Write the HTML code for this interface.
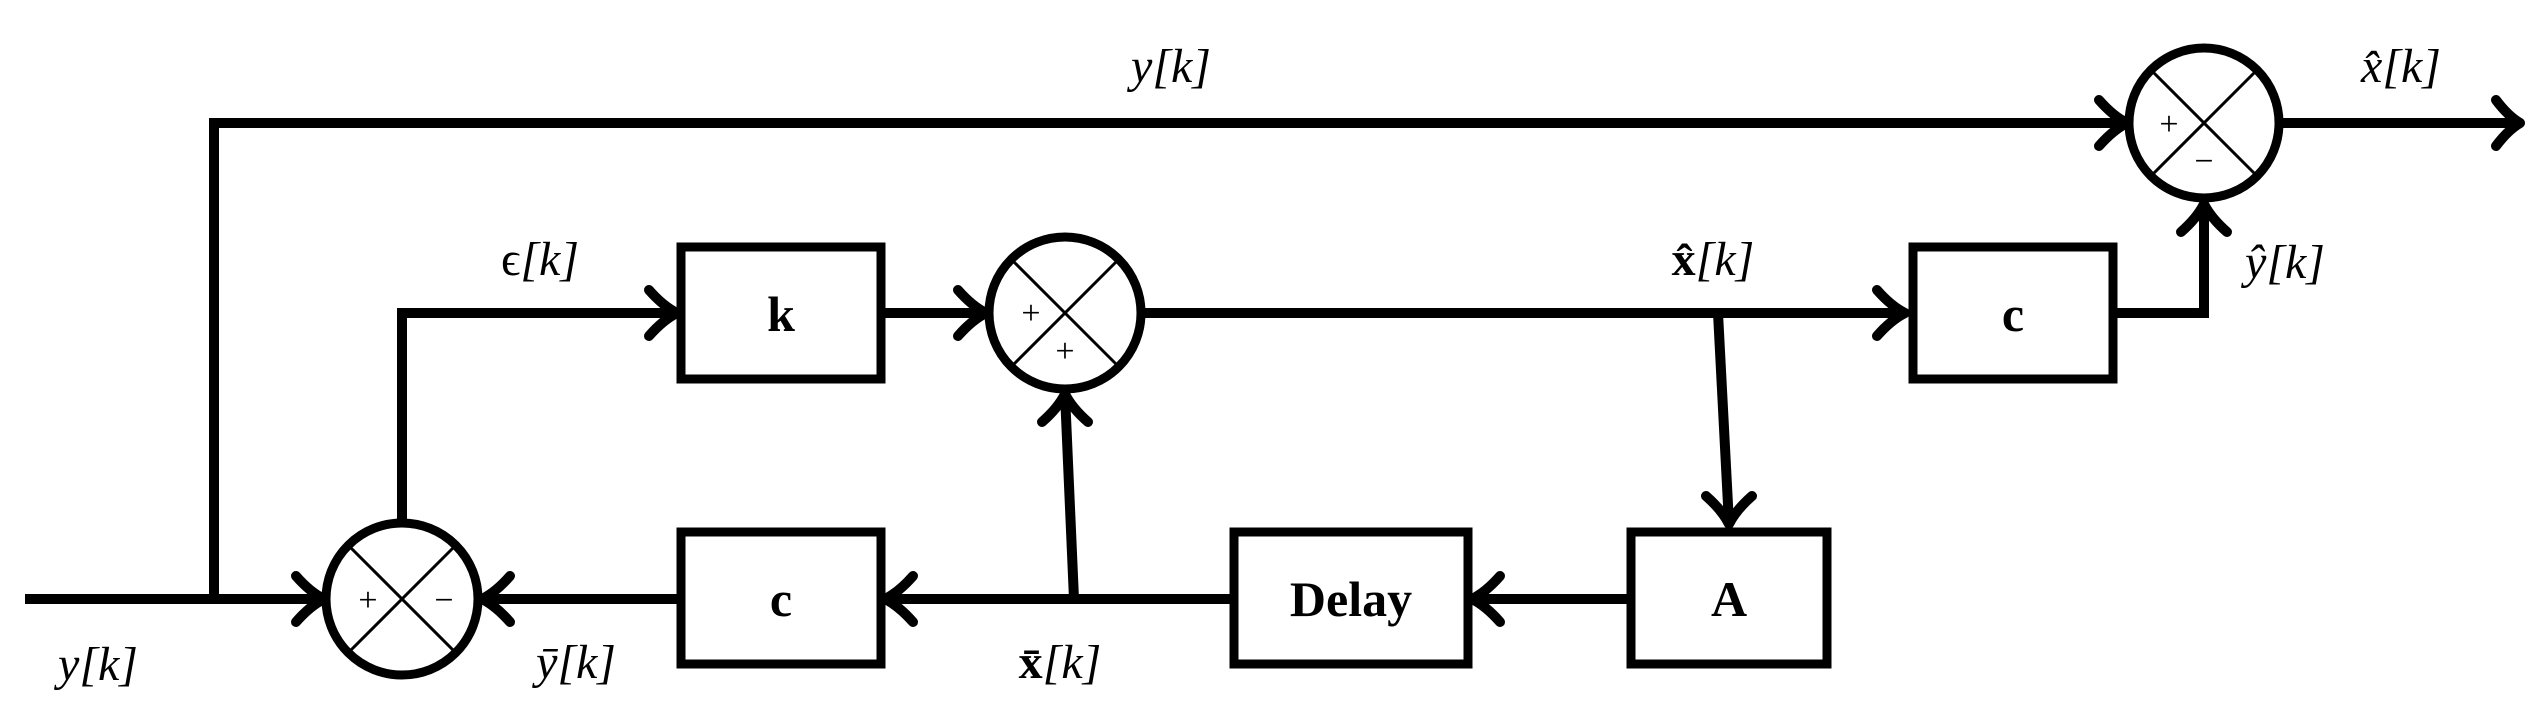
<!DOCTYPE html>
<html><head><meta charset="utf-8"><style>
html,body{margin:0;padding:0;background:#fff;}
svg{display:block;}
text{font-family:"Liberation Serif",serif;fill:#000;}
.m{font-style:italic;font-size:48px;}
.b{font-weight:bold;font-size:50px;}
.s{font-size:34px;}
</style></head><body>
<svg width="2545" height="718" viewBox="0 0 2545 718" xmlns="http://www.w3.org/2000/svg">
<defs>
<marker id="a" markerWidth="10" markerHeight="10" refX="8" refY="5" orient="auto" markerUnits="userSpaceOnUse" viewBox="0 0 10 10" style="overflow:visible">
</marker>
</defs>
<g stroke="#000" fill="none" stroke-width="10">
<!-- input and top line -->
<polyline points="25,599 324,599"/>
<polyline points="214,599 214,123 2127,123"/>
<!-- summer1 -> k -->
<polyline points="402,521 402,313 677,313"/>
<!-- k -> summer2 -->
<line x1="881" y1="313" x2="986" y2="313"/>
<!-- summer2 -> c2 -->
<line x1="1143" y1="313" x2="1905" y2="313"/>
<!-- branch to A -->
<line x1="1718" y1="313" x2="1729" y2="524"/>
<!-- c2 -> summer3 -->
<polyline points="2116,313 2204,313 2204,204"/>
<!-- out -->
<line x1="2280" y1="123" x2="2516" y2="123"/>
<!-- A -> Delay -->
<line x1="1627" y1="599" x2="1472" y2="599"/>
<!-- Delay -> c1 -->
<line x1="1230" y1="599" x2="885" y2="599"/>
<!-- branch up to summer2 -->
<line x1="1074" y1="599" x2="1065" y2="394"/>
<!-- c1 -> summer1 -->
<line x1="681" y1="599" x2="482" y2="599"/>
</g>
<!-- arrowheads -->
<g stroke="#000" fill="none" stroke-width="10" stroke-linecap="round" stroke-linejoin="round">
<path d="M296,576 Q310,592 324,599 Q310,606 296,622"/>
<path d="M649,290 Q663,306 677,313 Q663,320 649,336"/>
<path d="M958,290 Q972,306 986,313 Q972,320 958,336"/>
<path d="M1877,290 Q1891,306 1905,313 Q1891,320 1877,336"/>
<path d="M2099,100 Q2113,116 2127,123 Q2113,130 2099,146"/>
<path d="M2496,100 Q2508,116 2520,123 Q2508,130 2496,146"/>
<path d="M510,576 Q496,592 482,599 Q496,606 510,622"/>
<path d="M913,576 Q899,592 885,599 Q899,606 913,622"/>
<path d="M1500,576 Q1486,592 1472,599 Q1486,606 1500,622"/>
<path d="M1042,422 Q1058,408 1065,394 Q1072,408 1088,422"/>
<path d="M2181,232 Q2197,218 2204,204 Q2211,218 2227,232"/>
<path d="M1706,496 Q1722,510 1729,524 Q1736,510 1752,496"/>
</g>
<!-- boxes -->
<g stroke="#000" fill="#fff" stroke-width="9">
<rect x="681" y="247" width="200" height="132"/>
<rect x="1913" y="247" width="200" height="132"/>
<rect x="681" y="532" width="200" height="132"/>
<rect x="1234" y="532" width="234" height="132"/>
<rect x="1631" y="532" width="196" height="132"/>
</g>
<!-- summers -->
<g stroke="#000" fill="#fff" stroke-width="9">
<circle cx="402" cy="599" r="76"/>
<circle cx="1065" cy="313" r="76"/>
<circle cx="2204" cy="123" r="75"/>
</g>
<g stroke="#000" stroke-width="3">
<line x1="348" y1="545" x2="456" y2="653"/><line x1="456" y1="545" x2="348" y2="653"/>
<line x1="1011" y1="259" x2="1119" y2="367"/><line x1="1119" y1="259" x2="1011" y2="367"/>
<line x1="2151" y1="70" x2="2257" y2="176"/><line x1="2257" y1="70" x2="2151" y2="176"/>
</g>
<g class="s" text-anchor="middle">
<text x="368" y="611">+</text><text x="444" y="611">−</text>
<text x="1031" y="324">+</text><text x="1065" y="362">+</text>
<text x="2169" y="135">+</text><text x="2204" y="172">−</text>
</g>
<!-- box labels -->
<g class="b" text-anchor="middle">
<text x="781" y="331">k</text>
<text x="2013" y="331">c</text>
<text x="781" y="616">c</text>
<text x="1351" y="616">Delay</text>
<text x="1729" y="616">A</text>
</g>
<!-- signal labels -->
<g class="m" text-anchor="middle">
<text x="1171" y="82">y[k]</text>
<text x="2401" y="82">x̂[k]</text>
<text x="540" y="275"><tspan font-style="normal">ϵ</tspan>[k]</text>
<text x="1713" y="275"><tspan font-style="normal" font-weight="bold">x̂</tspan>[k]</text>
<text x="2285" y="278">ŷ[k]</text>
<text x="98" y="680">y[k]</text>
<text x="576" y="678">ȳ[k]</text>
<text x="1060" y="678"><tspan font-style="normal" font-weight="bold">x̄</tspan>[k]</text>
</g>
</svg>
</body></html>
